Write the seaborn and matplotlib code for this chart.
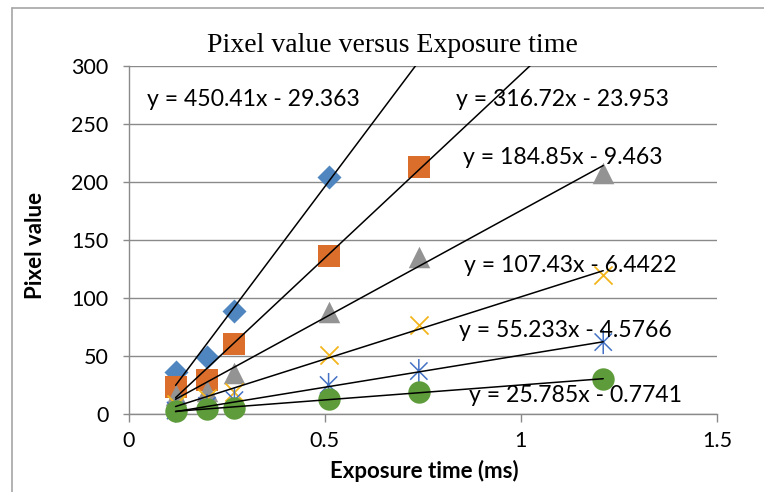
import matplotlib
matplotlib.use("Agg")
import matplotlib.pyplot as plt
from matplotlib.lines import Line2D
from matplotlib.path import Path
import numpy as np
import pandas as pd
import seaborn as sns

# Exposure times (ms) and measured pixel values for each series
exposure = [0.12, 0.20, 0.27, 0.51, 0.74, 1.21]
series_a = [36, 49, 89, 204]              # points beyond 300 fall off the chart
series_b = [23, 29, 60, 136, 213]
series_c = [16, 20, 35, 88, 135, 208]
series_d = [9, 14, 19, 51, 77, 120]
series_e = [3, 7, 12, 25, 37, 62]
series_f = [3, 4, 5, 13, 19, 30]

# Linear trendline coefficients (y = slope * x - offset)
slopes = [450.41, 316.72, 184.85, 107.43, 55.233, 25.785]
offsets = [29.363, 23.953, 9.463, 6.4422, 4.5766, 0.7741]

x_ticks = [0, 0.5, 1, 1.5]
x_tick_labels = ["0", "0.5", "1", "1.5"]
y_ticks = [0, 50, 100, 150, 200, 250, 300]

series = [series_a, series_b, series_c, series_d, series_e, series_f]
colors = ["#4F86C0", "#DB6E2B", "#939393", "#F2B51C", "#4472C4", "#5E9B3A"]

# asterisk marker: vertical bar plus a diagonal cross
asterisk = Path(
    [(0, -1), (0, 1), (-0.72, -0.72), (0.72, 0.72), (-0.72, 0.72), (0.72, -0.72)],
    [Path.MOVETO, Path.LINETO, Path.MOVETO, Path.LINETO, Path.MOVETO, Path.LINETO],
)
markers = ["D", "s", "^", "x", asterisk, "o"]
sizes = [150, 230, 240, 170, 300, 260]

sns.set_theme(style="white")
plt.rcParams["font.family"] = ["Lato", "DejaVu Sans"]

fig = plt.figure(figsize=(7.64, 4.92), dpi=100)
ax = fig.add_axes([128.5 / 764, 78 / 492, 588.5 / 764, 348 / 492])

grid_col = "#8A8A8A"
for values, col, mk, sz in zip(series, colors, markers, sizes):
    df = pd.DataFrame({"x": exposure[:len(values)], "y": values})
    if isinstance(mk, Path):
        sns.scatterplot(data=df, x="x", y="y", ax=ax, marker=mk, s=sz,
                        linewidth=1.1, edgecolor=col, facecolor="none",
                        zorder=3, clip_on=False)
    elif mk == "x":
        sns.scatterplot(data=df, x="x", y="y", ax=ax, color=col, marker=mk,
                        s=sz, linewidth=1.3, zorder=3, clip_on=False)
    else:
        sns.scatterplot(data=df, x="x", y="y", ax=ax, color=col, marker=mk,
                        s=sz, linewidth=0, zorder=3, clip_on=False)

# trendlines across the measured exposure range
x_line = np.array([min(exposure), max(exposure)])
for m, c in zip(slopes, offsets):
    sns.lineplot(x=x_line, y=m * x_line - c, ax=ax, color="black",
                 linewidth=1.1, zorder=4)

# equation labels
label_pos = [(0.047, 271), (0.836, 271), (0.852, 221), (0.855, 128),
             (0.842, 72), (0.868, 16)]
for (lx, ly), m, c in zip(label_pos, slopes, offsets):
    ax.text(lx, ly, f"y = {m:g}x - {c:g}", fontsize=16.6, color="black",
            va="center", ha="left", zorder=5)

ax.set_xlim(0, 1.5)
ax.set_ylim(0, 300)
ax.set_xticks(x_ticks)
ax.set_xticklabels(x_tick_labels)
ax.set_yticks(y_ticks)
ax.yaxis.grid(True, color=grid_col, linewidth=1.0)
ax.xaxis.grid(False)
ax.set_axisbelow(True)
for side in ("top", "right"):
    ax.spines[side].set_visible(False)
for side in ("left", "bottom"):
    ax.spines[side].set_color(grid_col)
    ax.spines[side].set_linewidth(1.0)
ax.tick_params(axis="x", direction="out", length=5.5, width=1.0, color=grid_col,
               labelsize=15.5, pad=7, bottom=True, labelcolor="black")
ax.tick_params(axis="y", direction="out", length=4.5, width=1.0, color=grid_col,
               labelsize=15.5, pad=10, left=True, labelcolor="black")
ax.set_xlabel("")
ax.set_ylabel("")
ax.patch.set_alpha(0)

fig.text(424 / 764, 1 - 471 / 492, "Exposure time (ms)", fontsize=16,
         fontweight="bold", ha="center", va="center", color="black")
fig.text(36 / 764, 1 - 245 / 492, "Pixel value", fontsize=16,
         fontweight="bold", ha="center", va="center", rotation=90, color="black")
fig.text(392 / 764, 1 - 46 / 492, "Pixel value versus Exposure time",
         fontsize=20, family="Liberation Serif", ha="center", va="center",
         color="black")

# chart area border
border = "#A6A6A6"
fig.add_artist(Line2D([12 / 764, 1.0], [1 - 8 / 492, 1 - 8 / 492],
                      color=border, linewidth=1.2, transform=fig.transFigure))
fig.add_artist(Line2D([12 / 764, 12 / 764], [0, 1 - 8 / 492],
                      color=border, linewidth=1.2, transform=fig.transFigure))

fig.savefig("out.png", dpi=100)
